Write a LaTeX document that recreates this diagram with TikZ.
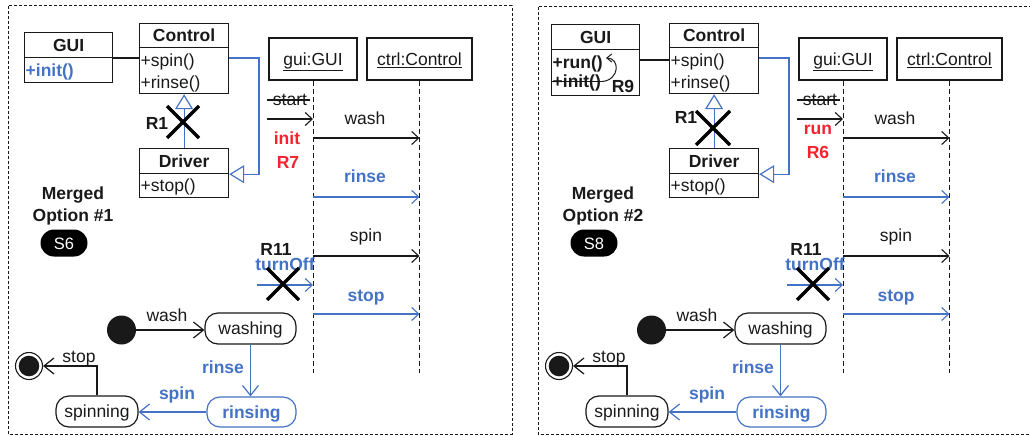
\documentclass[tikz,border=0pt]{standalone}
\usepackage{fontspec}
\setmainfont{Liberation Sans}
\usetikzlibrary{arrows.meta}
\definecolor{umlblue}{RGB}{68,114,196}
\definecolor{umlred}{RGB}{245,35,45}
\definecolor{ink}{RGB}{25,25,25}

\tikzset{
  txt/.style={font=\fontsize{17.5}{22}\selectfont, text=ink, inner sep=0pt,
              text height=12.5pt, text depth=0pt},
  txtw/.style={txt, anchor=west},
  bold/.style={font=\fontsize{17.5}{22}\selectfont\bfseries},
  part/.style={draw=ink, line width=1.2pt, inner sep=0pt, anchor=north west,
               font=\fontsize{17.5}{22}\selectfont, text=ink,
               text height=12.5pt, text depth=0pt},
  assoc/.style={draw=ink, line width=1.2pt},
  gen/.style={draw=umlblue, line width=1.2pt,
              -{Triangle[open, length=15pt, width=18pt, line width=1.2pt]}},
  cross/.style={draw=black, line width=3.5pt},
  lifeline/.style={draw=ink, line width=0.9pt, dash pattern=on 5pt off 3pt},
  msg/.style={draw=ink, line width=1.1pt, -{Straight Barb[length=7pt, width=13pt]}},
  bluemsg/.style={msg, draw=umlblue},
  state/.style={draw=ink, line width=1.2pt, rounded corners=13pt, inner sep=0pt,
                font=\fontsize{17.5}{22}\selectfont, text=ink,
                text height=12.5pt, text depth=0pt},
  trans/.style={draw=ink, line width=1.2pt, -{Straight Barb[length=10pt, width=16pt]}},
  frame/.style={draw=ink, line width=1pt, dash pattern=on 3pt off 2pt},
  pill/.style={fill=black, text=white, rounded corners=13.5pt, minimum width=47pt,
               minimum height=27pt, inner sep=0pt, font=\fontsize{16.5}{20}\selectfont,
               text height=12pt, text depth=0pt},
}

% Parts shared by both merged options: classes, sequence and state machine
\newcommand\panelparts[2]{%
  % class diagram
  \node[part, minimum width=89pt, minimum height=24pt] (ctrlH) at (139,23) {\textbf{Control}};
  \node[part, minimum width=89pt, minimum height=46pt] (ctrlB) at (139,47) {};
  \node[txtw] (ctrlOpA) at (140.5,60) {+spin()};
  \node[txtw] (ctrlOpB) at (140.5,82) {+rinse()};
  \node[part, minimum width=89pt, minimum height=25pt] (drvH) at (139,148) {\textbf{Driver}};
  \node[part, minimum width=89pt, minimum height=24pt] (drvB) at (139,173) {};
  \node[txtw] (drvOp) at (140.5,185) {+stop()};
  \draw[gen] (drvH.north) -- (ctrlB.south);
  \coordinate (bend) at (259,58);
  \draw[gen] (ctrlB.east |- bend) -- (bend) |- (drvH.south east);
  % option caption
  \node[txt, bold] (mergedA) at (73,193) {Merged};
  \node[txt, bold] (mergedB) at (73,215) {Option \##1};
  \node[pill] (sTag) at (64,243) {#2};
  % sequence diagram
  \node[part, anchor=center, minimum width=88pt, minimum height=42pt] (guiO) at (313,59) {\underline{gui:GUI}};
  \node[part, anchor=center, minimum width=105pt, minimum height=42pt] (ctrlO) at (419.5,59) {\underline{ctrl:Control}};
  \coordinate (guiEnd) at (313,373);
  \coordinate (ctrlEnd) at (419.5,373);
  \draw[lifeline] (guiO.south) -- (guiEnd);
  \draw[lifeline] (ctrlO.south) -- (ctrlEnd);
  \node[txt] (startT) at (290,99) {start};
  \coordinate (strikeA) at (267,100);
  \coordinate (strikeB) at (310,100);
  \draw[ink, line width=1.1pt] (strikeA) -- (strikeB);
  \coordinate (startSrc) at (267,119);
  \draw[msg] (startSrc) -- (guiO |- startSrc);
  \node[txt] (washT) at (365,118) {wash};
  \draw[msg] (guiO |- 0,138) -- (ctrlO |- 0,138);
  \node[txt, bold, text=umlblue] (rinseT) at (365,176) {rinse};
  \draw[bluemsg] (guiO |- 0,197) -- (ctrlO |- 0,197);
  \node[txt] (spinT) at (366,235) {spin};
  \draw[msg] (guiO |- 0,256) -- (ctrlO |- 0,256);
  \node[txt, bold] (rElev) at (276,249) {R11};
  \node[txt, bold, text=umlblue] (offT) at (285,264) {turnOff};
  \coordinate (offSrc) at (257,285);
  \draw[bluemsg] (offSrc) -- (guiO |- offSrc);
  \coordinate (xOff) at (283,284);
  \draw[cross] ([shift={(-16,-16)}]xOff) -- ([shift={(16,16)}]xOff)
               ([shift={(-16,16)}]xOff) -- ([shift={(16,-16)}]xOff);
  \node[txt, bold, text=umlblue] (stopT) at (366,295) {stop};
  \draw[bluemsg] (guiO |- 0,314) -- (ctrlO |- 0,314);
  % state machine
  \node[circle, fill=ink, minimum size=29pt, inner sep=0pt] (initSt) at (121.5,330) {};
  \node[state, minimum width=91pt, minimum height=31pt] (washing) at (250.5,328.5) {washing};
  \node[state, bold, draw=umlblue, text=umlblue, minimum width=89pt, minimum height=30pt] (rinsing) at (251.5,412) {rinsing};
  \node[state, minimum width=82pt, minimum height=31pt] (spinning) at (97,411.5) {spinning};
  \node[circle, draw=ink, line width=1.1pt, minimum size=27pt, inner sep=0pt] (finalSt) at (29,366) {};
  \fill[ink] (finalSt.center) circle (10.3);
  \draw[trans] (initSt.east) -- (initSt.east -| washing.west);
  \node[txt] (washL) at (167,315) {wash};
  \draw[trans, draw=umlblue] (washing.south) -- (washing.south |- rinsing.north);
  \node[txt, bold, text=umlblue] (rinseL) at (223,367) {rinse};
  \draw[trans, draw=umlblue] (rinsing.west) -- (rinsing.west -| spinning.east);
  \node[txt, bold, text=umlblue] (spinL) at (177,393) {spin};
  \draw[trans] (spinning.north) |- (finalSt.east);
  \node[txt] (stopL) at (79,356) {stop};
}

\begin{document}
\begin{tikzpicture}[x=1pt, y=-1pt]
  \useasboundingbox (0,0) rectangle (1030,436);
  \draw[frame] (8,6) rectangle (512,434);
  \draw[frame] (538,7) rectangle (1033,434);

  % Merged option 1
  \begin{scope}[name prefix=L-]
    \panelparts{1}{S6}
    \node[part, minimum width=88pt, minimum height=25pt] (guiH) at (24,32) {\textbf{GUI}};
    \node[part, minimum width=88pt, minimum height=25pt] (guiB) at (24,57) {};
    \node[txtw, bold, text=umlblue] (guiOp) at (25.5,70) {+init()};
    \draw[assoc] (guiB.east |- 0,58) -- (ctrlB.west |- 0,58);
    \node[txt, bold, text=umlred] (initT) at (287,138) {init};
    \node[txt, bold, text=umlred] (rSeven) at (288,162) {R7};
    \node[txt, bold] (rOne) at (157,123) {R1};
    \coordinate (xGen) at (183,122);
    \draw[cross] ([shift={(-16,-16)}]xGen) -- ([shift={(16,16)}]xGen)
                 ([shift={(-16,16)}]xGen) -- ([shift={(16,-16)}]xGen);
  \end{scope}

  % Merged option 2
  \begin{scope}[shift={(530,0)}, name prefix=R-]
    \panelparts{2}{S8}
    \node[part, minimum width=88pt, minimum height=25pt] (guiH) at (21,24) {\textbf{GUI}};
    \node[part, minimum width=88pt, minimum height=46pt] (guiB) at (21,49) {};
    \node[txtw, bold] (guiOpA) at (22.5,62) {+run()};
    \node[txtw, bold] (guiOpB) at (22.5,81) {+init()};
    \coordinate (sA) at (22,81.5);
    \coordinate (sB) at (72,81.5);
    \coordinate (sC) at (76,58);
    \draw[ink, line width=1.3pt] (sA) -- (sB);
    \draw[ink, line width=1pt, -{Straight Barb[length=5pt, width=8pt]}]
      (sB) .. controls (90,80) and (90,58) .. (sC);
    \node[txt, bold] (rNine) at (93,86) {R9};
    \draw[assoc] (guiB.east |- 0,60) -- (ctrlB.west |- 0,60);
    \node[txt, bold, text=umlred] (runT) at (288,128) {run};
    \node[txt, bold, text=umlred] (rSix) at (288,152) {R6};
    \node[txt, bold] (rOne) at (156,117) {R1};
    \coordinate (xGen) at (183,128);
    \draw[cross] ([shift={(-17,-17)}]xGen) -- ([shift={(17,17)}]xGen)
                 ([shift={(-17,17)}]xGen) -- ([shift={(17,-17)}]xGen);
  \end{scope}
\end{tikzpicture}
\end{document}
